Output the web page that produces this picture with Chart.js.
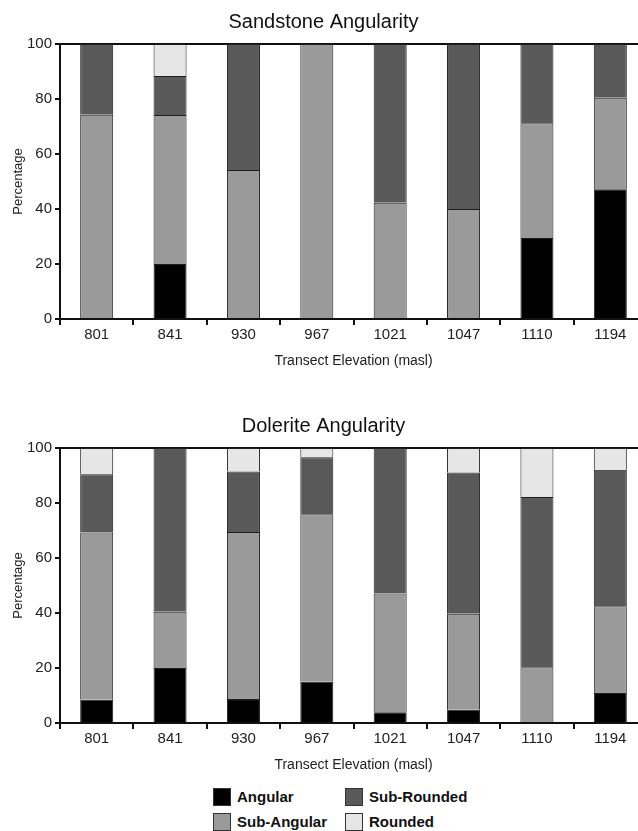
<!DOCTYPE html>
<html>
<head>
<meta charset="utf-8">
<script src="https://cdn.jsdelivr.net/npm/chart.js@4.4.1/dist/chart.umd.min.js"></script>
<style>
  body { margin: 0; background: #fff; font-family: "Liberation Sans", Arial, sans-serif; }
  .wrap { position: absolute; left: 0; width: 638px; height: 376px; overflow: hidden; }
  #legend { position: absolute; left: 213px; top: 788px; display: grid;
            grid-template-columns: 132px auto; grid-auto-rows: 17px; row-gap: 8px; }
  .item { display: flex; align-items: center; gap: 6px; font-weight: bold; font-size: 15px; color: #111; }
  .box { width: 16px; height: 16px; border: 1px solid #333; }
</style>
</head>
<body>
<div class="wrap" style="top:0"><canvas id="sandChart" width="648" height="376"></canvas></div>
<div class="wrap" style="top:404px"><canvas id="dolChart" width="648" height="376"></canvas></div>
<div id="legend"></div>

<script>
const categories = ['801', '841', '930', '967', '1021', '1047', '1110', '1194'];
const seriesNames = ['Angular', 'Sub-Angular', 'Sub-Rounded', 'Rounded'];
const seriesColors = ['#000000', '#9a9a9a', '#595959', '#e6e6e6'];

// sandstone, % per class
const sandAngular    = [0, 20, 0, 0, 0, 0, 29.5, 47.2];
const sandSubAngular = [74.3, 54.2, 54.2, 100, 42.3, 40, 41.7, 33.3];
const sandSubRounded = [25.7, 14.2, 45.8, 0, 57.7, 60, 28.8, 19.5];
const sandRounded    = [0, 11.6, 0, 0, 0, 0, 0, 0];

// dolerite, % per class
const dolAngular    = [8.5, 20, 8.7, 15, 3.9, 4.8, 0, 10.9];
const dolSubAngular = [60.8, 20.5, 60.8, 60.9, 43.2, 34.9, 20.3, 31.6];
const dolSubRounded = [21.2, 59.5, 22, 20.7, 52.9, 51.4, 61.9, 49.6];
const dolRounded    = [9.5, 0, 8.5, 3.4, 0, 8.9, 17.8, 7.9];

const yTicks = [0, 20, 40, 60, 80, 100];

function makeChart(id, title, series) {
    const ctx = document.getElementById(id).getContext('2d');
    return new Chart(ctx, {
        type: 'bar',
        data: {
            labels: categories,
            datasets: series.map((vals, i) => ({
                label: seriesNames[i],
                data: vals,
                backgroundColor: seriesColors[i],
                borderColor: '#1e1e1e',
                borderWidth: 1,
                barPercentage: 0.45,
                categoryPercentage: 1
            }))
        },
        options: {
            responsive: false,
            animation: false,
            layout: { padding: { left: 0, right: 1, top: 0, bottom: 0 } },
            plugins: {
                legend: { display: false },
                tooltip: { enabled: false },
                title: {
                    display: true,
                    text: title,
                    color: '#111',
                    font: { family: 'Liberation Sans', size: 20, weight: 'normal', lineHeight: 1.1 },
                    padding: { top: 11, bottom: 11 }
                }
            },
            scales: {
                x: {
                    stacked: true,
                    afterFit: s => { s.height = 57; },
                    border: { color: '#111', width: 2 },
                    grid: { offset: true, drawOnChartArea: false, drawTicks: true, tickLength: 6, color: '#111', lineWidth: 2 },
                    ticks: { color: '#222', padding: 1, font: { family: 'Liberation Sans', size: 15 } },
                    title: {
                        display: true,
                        text: 'Transect Elevation (masl)',
                        color: '#222',
                        font: { family: 'Liberation Sans', size: 14 },
                        padding: { top: 0, bottom: 6 }
                    }
                },
                y: {
                    stacked: true,
                    min: 0,
                    max: 100,
                    afterFit: s => { s.width = 60; },
                    afterBuildTicks: s => { s.ticks = yTicks.map(v => ({ value: v })); },
                    border: { color: '#111', width: 2 },
                    grid: {
                        drawTicks: true,
                        tickLength: 5,
                        tickColor: '#111',
                        lineWidth: 2,
                        color: c => (c.tick && c.tick.value === 100) ? '#111' : 'rgba(0,0,0,0)'
                    },
                    ticks: { color: '#222', padding: 3, font: { family: 'Liberation Sans', size: 15 } },
                    title: {
                        display: true,
                        text: 'Percentage',
                        color: '#222',
                        font: { family: 'Liberation Sans', size: 13 },
                        padding: { top: 11, bottom: 0 }
                    }
                }
            }
        }
    });
}

makeChart('sandChart', 'Sandstone Angularity', [sandAngular, sandSubAngular, sandSubRounded, sandRounded]);
makeChart('dolChart', 'Dolerite Angularity', [dolAngular, dolSubAngular, dolSubRounded, dolRounded]);

// legend laid out in two columns like the figure
const legendOrder = [0, 2, 1, 3];
const legendEl = document.getElementById('legend');
legendOrder.forEach(i => {
    const item = document.createElement('div');
    item.className = 'item';
    const box = document.createElement('span');
    box.className = 'box';
    box.style.background = seriesColors[i];
    const txt = document.createElement('span');
    txt.textContent = seriesNames[i];
    item.appendChild(box);
    item.appendChild(txt);
    legendEl.appendChild(item);
});
</script>
</body>
</html>
